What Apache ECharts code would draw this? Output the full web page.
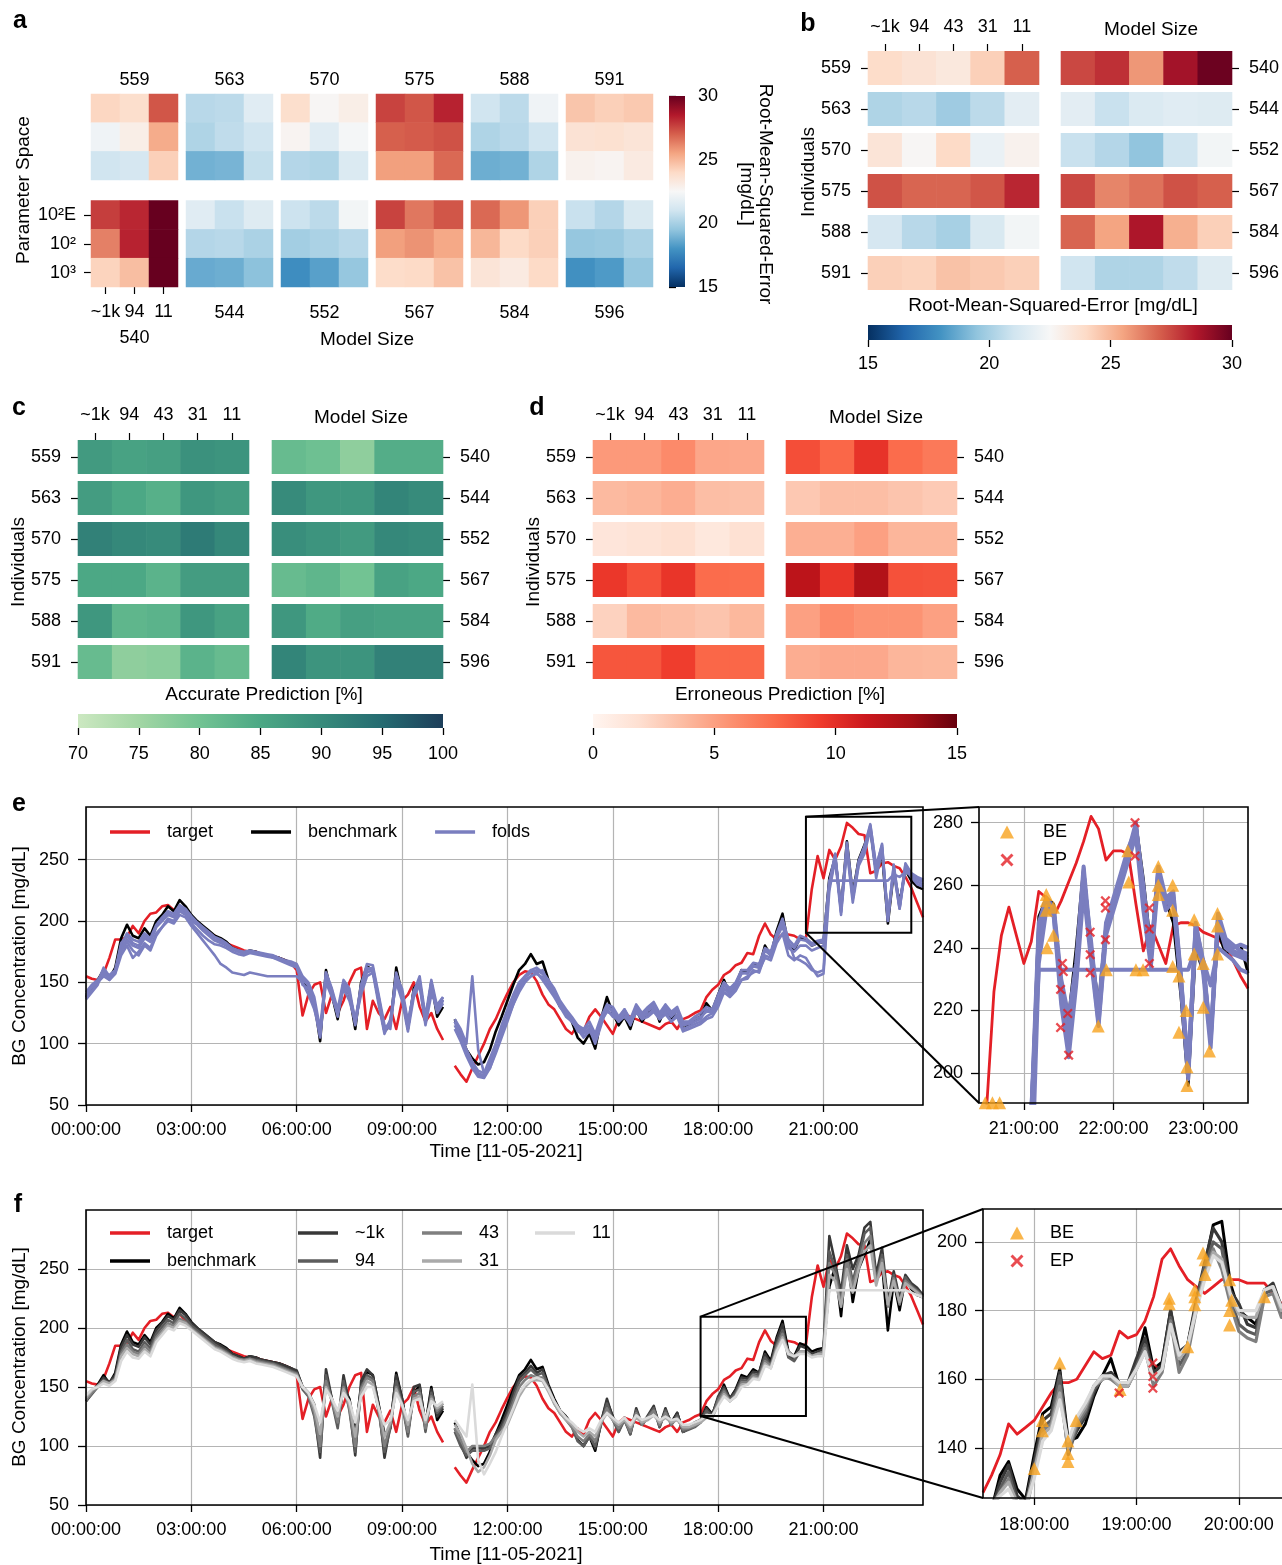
<!DOCTYPE html>
<html><head><meta charset="utf-8"><title>chart</title>
<script src="https://cdn.jsdelivr.net/npm/echarts@6.0.0/dist/echarts.min.js"></script>
<style>html,body{margin:0;padding:0;background:#fff;}#chart{width:1282px;height:1565px;}</style>
</head><body><div id="chart"></div>
<script>
// ====================== DATA ======================
const modelSizesA = ['~1k', '94', '11'];
const modelSizes = ['~1k', '94', '43', '31', '11'];
const paramSpace = ['10²E', '10²', '10³'];
const individualsTop = ['559', '563', '570', '575', '588', '591'];
const individualsBottom = ['540', '544', '552', '567', '584', '596'];
const rmseRange = [15, 30];
const accRange = [70, 100];
const errRange = [0, 15];

// panel a: RMSE, rows = parameter space (10²E, 10², 10³), cols = model size (~1k, 94, 11)
const rmseA559 = [[24.1,23.8,27.2],[22.2,23.0,25.3],[21.0,21.2,24.3]];
const rmseA563 = [[20.4,20.5,21.6],[20.2,20.6,21.0],[18.9,19.0,20.7]];
const rmseA570 = [[23.8,22.6,23.0],[22.7,21.6,22.4],[20.3,20.2,21.4]];
const rmseA575 = [[27.6,27.2,28.3],[27.0,27.1,27.3],[25.6,25.6,26.8]];
const rmseA588 = [[21.0,20.5,22.2],[20.2,20.4,21.0],[18.8,18.9,20.2]];
const rmseA591 = [[24.6,24.3,24.5],[23.6,23.7,23.5],[22.8,22.7,23.2]];
const rmseA540 = [[27.7,28.2,30.0],[26.3,28.3,30.0],[24.2,24.8,30.0]];
const rmseA544 = [[21.6,20.8,21.5],[20.3,20.4,20.1],[18.7,18.8,19.4]];
const rmseA552 = [[20.9,20.5,22.3],[19.9,20.1,20.4],[17.8,18.4,19.6]];
const rmseA567 = [[27.6,26.5,27.2],[25.6,25.9,25.4],[23.9,24.0,24.7]];
const rmseA584 = [[26.8,25.8,24.3],[25.0,24.0,24.3],[23.5,23.2,24.0]];
const rmseA596 = [[20.8,20.3,21.3],[19.6,19.7,20.1],[17.9,18.2,19.6]];

// panel b: RMSE, rows = individuals, cols = model size
const rmseBLeft = [[23.9,23.6,23.3,24.3,27.0],[20.2,20.4,19.8,20.5,21.7],[23.5,22.6,24.0,22.0,22.8],[27.3,26.9,26.9,27.2,28.2],[21.2,20.4,20.0,21.3,22.3],[24.3,24.2,24.7,24.5,24.3]];
const rmseBRight = [[27.5,28.0,25.8,28.8,29.9],[21.7,20.8,21.4,21.6,21.5],[20.8,20.3,19.5,21.0,22.3],[27.5,26.2,26.6,27.3,27.0],[26.9,25.5,28.6,25.2,24.3],[21.0,20.2,20.2,20.6,21.5]];
// panel c: accurate prediction [%]
const accCLeft = [[87.5,86.0,86.5,89.0,88.5],[87.0,85.0,83.5,88.0,87.0],[91.5,90.5,90.0,92.5,90.5],[85.0,85.0,83.0,87.0,87.0],[88.0,82.5,83.0,88.0,86.0],[81.5,77.0,77.5,83.0,81.5]];
const accCRight = [[81.5,80.5,77.0,84.0,84.0],[90.0,88.0,88.0,91.0,90.0],[89.5,88.5,87.5,90.5,90.0],[81.5,82.5,80.0,86.0,85.0],[88.0,84.5,86.5,86.0,86.0],[91.0,88.5,88.5,91.5,91.5]];
// panel d: erroneous prediction [%]
const errDLeft = [[5.3,5.3,6.0,4.7,4.6],[3.8,4.0,4.4,3.6,3.5],[1.4,1.6,1.9,1.2,1.8],[9.6,8.5,9.7,7.4,7.3],[2.6,3.8,3.6,3.3,3.9],[8.3,8.3,9.3,7.6,7.6]];
const errDRight = [[8.6,7.6,9.8,7.4,6.8],[3.1,3.6,3.6,3.3,3.0],[4.3,4.3,5.0,4.0,4.0],[12.0,9.7,12.5,8.5,8.4],[5.0,6.0,5.6,5.6,5.0],[4.4,4.6,4.6,4.0,3.9]];

// time series, 10-minute samples from 00:00 to 23:50 (hours)
const t10 = Array.from({length: 144}, (_, i) => i / 6);
const target = [155,153,152,157,170,185,185,187,196,190,200,206, 207,212,213,209,212,206,202,198,194,190,188,184, 182,180,178,176,175,175,173,172,171,170,168,166, 160,123,140,148,150,125,140,125,135,150,160,162, 112,135,125,120,130,112,135,140,150,130,118,125, 112,103,null,82,75,69,80,90,100,112,120,131, 141,150,156,159,158,151,140,132,128,120,112,108, 115,110,122,128,122,115,108,120,124,122,120,118, 116,114,112,116,118,112,120,122,125,127,138,144, 148,156,159,164,166,174,173,188,198,189,185,189, 189,188,185,186,226,253,235,258,250,261,280,276, 271,270,239,241,247,248,245,243,236,227,215,203];
const benchmark = [138,145,152,160,153,162,186,197,188,186,194,188, 200,205,212,208,217,212,205,200,196,192,188,186, 183,178,176,174,176,175,173,172,171,170,168,166, 163,150,145,135,102,160,140,120,150,140,112,150, 163,160,135,110,115,162,140,112,145,151,118,150, 122,130,null,120,108,95,88,83,85,95,110,122, 135,148,160,165,173,165,167,152,140,130,125,118, 105,100,108,96,120,138,125,115,122,112,128,118, 125,132,118,130,120,128,112,115,120,122,133,127, 140,152,140,148,160,158,165,162,180,172,192,206, 180,176,187,185,180,182,183,235,252,210,265,222, 250,262,275,240,255,198,240,215,242,233,228,226];
const fold1 = [140,147,150,162,155,158,180,190,185,183,190,186, 197,203,208,206,213,210,204,199,195,191,187,185, 182,178,176,174,175,174,173,172,170,169,167,165, 163,152,148,130,105,155,142,122,148,142,115,145, 160,162,138,112,118,158,142,115,140,150,120,148, 128,135,null,118,108,95,85,78,76,88,100,115, 128,140,150,155,160,158,160,150,140,132,125,120, 110,108,112,100,115,130,126,118,125,115,128,120, 127,130,120,128,122,127,115,116,118,120,128,126, 136,148,142,148,158,157,163,162,176,172,188,200, 182,178,185,184,180,182,183,230,255,208,262,220, 248,260,278,245,262,200,245,212,246,238,234,232];
const fold2 = [137,143,150,155,152,157,172,180,170,175,182,178, 190,195,200,198,205,203,196,190,184,178,172,165, 162,158,157,156,158,157,156,155,155,155,155,155, 155,150,140,128,110,150,138,125,145,135,118,140, 155,158,132,108,120,150,135,110,138,148,115,140, 132,138,null,115,105,95,85,75,73,82,95,110, 122,135,145,152,155,158,152,145,138,130,122,118, 112,105,110,105,118,128,122,120,128,118,125,122, 124,128,122,126,118,124,112,114,116,118,122,125, 132,145,140,145,152,155,158,160,170,168,182,190, 172,168,172,170,162,155,157,225,250,205,258,215, 245,255,275,235,258,205,240,210,243,236,230,228];
const fold3 = [142,148,152,158,156,160,178,185,180,178,186,183, 195,200,205,203,210,206,200,197,192,188,184,182, 180,177,176,175,176,175,174,173,172,170,168,167, 165,155,150,138,112,158,145,128,152,145,118,148, 165,164,140,115,112,155,145,118,142,155,122,152, 130,138,null,120,112,100,155,95,76,80,92,105, 118,132,145,155,160,162,158,152,145,135,128,122, 115,112,118,108,122,132,130,122,128,120,132,125, 130,134,125,132,126,130,118,118,122,125,130,128, 140,150,145,150,160,160,166,165,178,175,190,202, 185,180,188,186,182,184,185,233,233,233,233,233, 233,233,233,233,233,233,238,236,240,237,235,233];
const fold4 = [136,142,148,160,152,158,175,183,176,172,180,176, 188,195,202,200,208,205,198,193,188,184,181,180, 178,175,173,172,174,173,172,171,170,168,166,164, 162,148,145,132,108,152,140,125,147,140,120,143, 158,160,135,110,116,152,138,113,142,148,117,145, 125,133,null,112,102,90,80,73,72,80,94,108, 120,132,142,150,155,157,154,148,140,130,124,118, 112,108,112,104,118,126,124,118,122,116,126,120, 122,126,120,124,118,122,110,112,114,116,120,122, 130,142,138,143,152,153,160,158,172,170,186,196, 178,175,180,180,176,178,180,228,252,210,260,218, 246,258,276,240,260,202,242,210,244,236,232,230];
const fold5 = [139,146,151,157,154,160,182,188,182,180,188,184, 196,202,206,204,212,208,202,198,193,189,185,183, 181,177,175,173,175,174,173,172,171,169,167,166, 164,153,147,134,106,158,144,124,150,142,116,147, 162,161,137,112,115,157,141,116,143,152,119,150, 127,136,null,118,106,92,82,76,74,84,97,112, 125,138,148,154,158,160,157,150,142,133,126,121, 113,110,115,106,120,130,128,120,126,118,130,123, 128,132,123,130,124,128,116,117,120,122,126,126, 138,150,143,147,157,158,164,163,177,173,189,200, 183,170,168,165,160,158,160,232,254,207,264,219, 249,261,279,243,263,201,246,211,247,239,236,234];
const model1k = [140,146,151,158,154,160,184,194,186,184,192,186, 198,204,210,207,215,211,204,200,196,192,188,185, 182,178,176,174,176,175,173,172,171,170,168,166, 164,150,145,130,90,165,140,118,160,135,92,155, 165,160,135,90,118,160,140,110,150,152,115,148, 125,132,null,115,102,90,98,98,98,100,110,118, 130,145,158,162,168,162,165,150,138,130,125,118, 105,100,110,98,120,140,124,112,124,110,132,118, 126,134,116,132,118,128,112,115,118,122,132,126, 142,150,140,147,158,157,163,162,178,170,190,203, 176,174,185,183,178,180,182,278,255,230,270,250, 262,285,290,245,268,222,248,225,245,238,234,228];
const model94 = [138,144,150,156,153,158,180,190,182,180,188,183, 195,201,207,204,212,208,202,198,194,190,186,183, 180,176,174,172,174,173,172,171,170,168,166,164, 162,148,142,125,95,160,138,115,155,130,95,150, 160,157,130,95,115,155,136,108,146,148,112,145, 128,134,null,112,100,92,96,96,96,98,108,115, 126,140,154,160,165,160,162,150,137,128,123,116, 104,100,108,100,118,136,122,112,122,110,130,118, 125,132,116,130,118,126,112,114,116,120,130,125, 140,148,139,145,156,155,161,160,175,168,186,198, 175,172,180,180,176,178,180,265,250,225,262,240, 258,280,285,240,262,220,245,222,243,236,232,227];
const model43 = [139,145,150,155,152,157,178,186,180,178,185,180, 192,198,204,202,208,205,200,196,192,188,184,182, 179,176,174,173,174,172,171,170,169,167,165,163, 161,150,143,128,100,155,138,120,150,132,100,148, 158,155,130,100,118,150,135,112,142,145,115,142, 130,136,null,115,105,95,100,100,100,102,108,112, 124,136,150,156,160,158,158,148,136,128,122,116, 108,104,110,104,120,132,122,115,122,112,128,118, 124,130,118,128,118,124,114,115,117,120,127,124, 138,146,138,143,154,154,160,158,172,168,184,195, 178,175,180,180,176,178,180,255,245,220,258,235, 255,272,278,238,258,218,242,220,240,235,231,226];
const model31 = [141,147,151,155,153,156,176,183,178,176,182,178, 190,196,202,200,206,204,199,195,191,187,183,181, 178,175,173,172,173,171,170,169,168,166,164,162, 160,150,145,132,110,150,140,125,148,135,108,145, 155,152,132,108,120,148,135,118,140,142,120,140, 132,136,null,118,110,98,85,78,82,92,105,112, 118,130,142,150,155,156,155,146,136,128,122,118, 112,108,112,108,120,128,122,118,122,116,124,120, 122,126,120,124,120,122,116,116,118,120,124,124, 135,144,138,142,152,152,158,157,170,166,182,192, 180,176,180,180,176,178,178,245,240,218,250,230, 250,265,270,236,255,220,240,222,238,234,230,226];
const model11 = [143,148,150,153,151,155,172,180,175,174,180,176, 188,194,200,198,204,202,198,194,190,186,182,180, 177,174,172,171,172,170,169,168,167,165,163,161, 159,150,145,135,120,148,140,130,145,138,120,142, 150,150,132,118,122,145,135,122,138,140,122,138, 134,138,null,122,115,108,152,88,76,85,95,108, 120,132,145,152,156,158,156,148,138,130,124,120, 115,112,115,112,122,128,124,120,124,118,126,122, 124,126,122,125,122,123,118,118,120,122,126,126, 134,142,138,142,150,152,157,156,168,166,180,190, 178,176,178,178,175,176,176,232,232,232,232,232, 232,232,232,232,232,232,232,232,232,230,228,226];

// inset e: 5-minute samples 20:30 - 23:30
const insetEX = [20.5, 23.5];
const insetEY = [190.4, 285];
const tInsetE = Array.from({length: 37}, (_, i) => 20.5 + i / 12);
const targetE = [185,188,226,244,253,244,235,242,258,256,250,255,261,267,274,282,278,268,271,271,270,254,239,247,241,235,247,248,248,247,245,244,243,240,236,231,227];
const benchmarkE = [185,182,178,180,183,178,183,186,250,256,254,226,218,240,266,240,222,248,255,262,268,280,262,240,260,255,248,225,196,240,232,210,245,238,240,241,232];
const foldE1 = [188,185,182,180,182,180,183,185,245,255,252,228,215,232,262,242,218,246,254,262,270,279,258,236,264,254,256,230,202,246,234,212,248,240,238,237,236];
const foldE2 = [175,172,168,165,162,160,158,160,235,252,250,222,205,228,258,236,215,244,252,260,268,276,252,234,262,252,255,228,198,245,232,208,249,242,240,241,240];
const foldE3 = [186,184,180,178,180,176,180,188,233,233,233,233,233,233,233,233,233,233,233,233,233,233,233,233,233,233,233,233,233,240,236,228,240,238,236,233,232];
const foldE4 = [184,181,179,178,181,177,181,186,240,254,251,225,210,230,264,238,216,245,255,263,271,280,256,237,266,256,258,232,200,248,235,210,250,241,239,238,237];
const foldE5 = [187,183,181,179,183,179,182,187,248,256,253,230,218,235,266,240,220,248,256,264,272,278,260,238,265,255,257,231,201,247,236,211,251,243,241,239,238];
const beE = [[20.57,190.5],[20.65,190.5],[20.73,190.5],[21.25,257],[21.25,255],[21.25,252],[21.26,240],[21.33,253],[21.33,244],[21.83,215],[21.92,233],[22.16,271],[22.17,261],[22.25,233],[22.33,233],[22.5,266],[22.5,260],[22.5,257],[22.66,260],[22.66,252],[22.66,234],[22.73,231],[22.73,213],[22.81,220],[22.82,202],[22.82,196],[22.9,249],[22.9,238],[23.0,235],[23.0,221],[23.07,207],[23.16,251],[23.16,247],[23.16,238]];
const epE = [[21.41,226.7],[21.41,214.5],[21.43,235],[21.44,232.4],[21.49,219],[21.5,205.7],[21.74,245],[21.74,237.8],[21.74,232],[21.91,255],[21.91,252.7],[21.91,242.6],[22.24,280],[22.24,269.3],[22.4,252.7],[22.4,246],[22.4,235]];

// inset f: 5-minute samples 17:30 - 20:30
const insetFX = [17.5, 20.5];
const insetFY = [125.4, 209.6];
const tInsetF = Array.from({length: 37}, (_, i) => 17.5 + i / 12);
const targetF = [127,132,138,147,144,146,148,152,156,159,159,160,164,168,166,167,174,172,173,177,184,195,198,193,189,187,185,187,189,189,189,188,188,188,185,182,180];
const benchmarkF = [118,122,132,136,128,125,138,150,152,163,142,143,147,155,161,166,158,158,165,175,163,165,180,166,170,182,193,205,206,188,180,178,176,186,187,180,183];
const model1kF = [118,122,130,135,126,124,136,148,150,162,140,145,149,156,161,162,159,159,166,172,162,164,180,168,170,183,194,204,200,186,182,176,175,186,188,181,182];
const model94F = [117,121,128,133,124,122,134,146,148,161,138,146,150,157,160,161,159,158,164,170,160,163,178,164,168,182,193,200,198,184,176,174,173,185,186,179,181];
const model43F = [116,120,127,131,122,121,133,145,147,158,139,147,151,158,161,160,158,158,163,169,158,162,177,162,167,180,191,198,192,182,174,172,171,184,185,178,180];
const model31F = [119,123,127,130,124,123,133,144,146,156,140,148,152,158,160,161,158,158,163,168,160,163,176,166,169,181,190,197,195,184,179,178,178,186,187,180,181];
const model11F = [120,124,126,128,123,123,131,142,145,154,142,149,153,158,161,161,159,159,163,168,160,163,176,167,170,180,189,196,194,185,180,180,180,186,187,181,181];
const beF = [[18.0,134],[18.08,148],[18.08,145],[18.25,164.7],[18.33,142],[18.33,138.4],[18.33,136],[18.41,148],[18.84,157],[19.32,183.6],[19.32,182],[19.5,169.5],[19.57,186],[19.57,184],[19.57,181.7],[19.65,196.8],[19.67,194.8],[19.67,190.5],[19.91,189],[19.93,183],[19.91,180],[19.91,175.8],[20.25,184]];
const epF = [[18.83,156],[19.16,164.7],[19.16,160.8],[19.16,157.4]];

// tick values
const mainTimeTicks = [0, 3, 6, 9, 12, 15, 18, 21];
const bgTicks = [50, 100, 150, 200, 250];
const insetETimeTicks = [21, 22, 23];
const insetEBgTicks = [200, 220, 240, 260, 280];
const insetFTimeTicks = [18, 19, 20];
const insetFBgTicks = [140, 160, 180, 200];

// ====================== STYLE ======================
const FONT = '"Liberation Sans", Arial, Helvetica, sans-serif';
const RDBU = ['#053061','#2166ac','#4393c3','#92c5de','#d1e5f0','#f7f7f7','#fddbc7','#f4a582','#d6604d','#b2182b','#67001f'];
const GREENS = ['#cce8c1','#a2d6a4','#72c393','#4ca885','#378b7b','#256b71','#1d3e5a'];
const REDS = ['#fff5f0','#fee0d2','#fcbba1','#fc9272','#fb6a4a','#ef3b2c','#cb181d','#a50f15','#67000d'];
const C_TARGET = '#e41f26', C_BENCH = '#000000', C_FOLD = '#7a7ebf', C_BE = '#f7a21e', C_EP = '#e41f26';
const MODEL_COLORS = ['#383838', '#5c5c5c', '#7f7f7f', '#aaaaaa', '#dadada'];
const X_PATH = 'path://M0,1.6L1.6,0L5,3.4L8.4,0L10,1.6L6.6,5L10,8.4L8.4,10L5,6.6L1.6,10L0,8.4L3.4,5Z';

// ====================== BUILD ======================
const grid = [], xAxis = [], yAxis = [], series = [];
function addGrid(left, top, width, height, extra) {
  grid.push(Object.assign({left, top, width, height, containLabel: false, outerBoundsMode: 'none'}, extra || {}));
  return grid.length - 1;
}
function tick(len) { return {show: true, length: len, alignWithLabel: true, interval: 0, inside: false, lineStyle: {color: '#000', width: 1.2}}; }
function lab(m, extra) { return Object.assign({show: true, margin: m, fontSize: 18, color: '#000', fontFamily: FONT, interval: 0}, extra || {}); }
function off() { return {show: false}; }
function toCells(mat) { const d = []; mat.forEach((r, ri) => r.forEach((v, ci) => d.push([ci, ri, v]))); return d; }

const rdbuSeries = [], greenSeries = [], redSeries = [];

// ---- panel a ----
const aTop = [rmseA559, rmseA563, rmseA570, rmseA575, rmseA588, rmseA591];
const aBottom = [rmseA540, rmseA544, rmseA552, rmseA567, rmseA584, rmseA596];
for (let k = 0; k < 6; k++) {
  for (let row = 0; row < 2; row++) {
    const gi = addGrid(91 + 95 * k, row ? 200.5 : 94, 87, row ? 86.5 : 86);
    const first = row === 1 && k === 0;
    xAxis.push({type: 'category', gridIndex: gi, data: modelSizesA, position: row ? 'bottom' : 'top',
      name: row ? individualsBottom[k] : individualsTop[k], nameLocation: 'middle',
      nameGap: row ? (first ? 42 : 17) : 5, nameMoveOverlap: false,
      nameTextStyle: {fontSize: 18, color: '#000', fontFamily: FONT},
      axisLine: off(), axisTick: first ? tick(7) : off(), axisLabel: first ? lab(16) : off(), splitLine: off()});
    yAxis.push({type: 'category', gridIndex: gi, data: paramSpace, inverse: true,
      axisLine: off(), axisTick: first ? tick(7) : off(), axisLabel: first ? lab(15) : off(), splitLine: off()});
    series.push({type: 'heatmap', xAxisIndex: xAxis.length - 1, yAxisIndex: yAxis.length - 1,
      data: toCells(row ? aBottom[k] : aTop[k]), itemStyle: {borderWidth: 0}, emphasis: {disabled: true}, silent: true});
    rdbuSeries.push(series.length - 1);
  }
}

function colorbar(left, top, width, height, horizontal, range, colors, margin) {
  const gi = addGrid(left, top, width, height);
  const valAx = {type: 'value', gridIndex: gi, min: range[0], max: range[1], interval: 5,
    axisLine: off(), axisTick: {show: true, length: 7, lineStyle: {color: '#000', width: 1.3}},
    axisLabel: lab(margin), splitLine: off()};
  const hidAx = {type: 'value', gridIndex: gi, min: 0, max: 1, show: false};
  if (horizontal) { xAxis.push(Object.assign(valAx, {position: 'bottom'})); yAxis.push(hidAx); }
  else { xAxis.push(hidAx); yAxis.push(Object.assign(valAx, {position: 'right'})); }
  series.push({type: 'custom', xAxisIndex: xAxis.length - 1, yAxisIndex: yAxis.length - 1, silent: true,
    data: [[range[0], range[1]]],
    renderItem: (p, api) => {
      const lo = api.value(0), hi = api.value(1);
      const a = horizontal ? api.coord([lo, 0]) : api.coord([0, lo]);
      const b = horizontal ? api.coord([hi, 1]) : api.coord([1, hi]);
      const stops = colors.map((c, i) => ({offset: i / (colors.length - 1), color: c}));
      const grad = horizontal ? new echarts.graphic.LinearGradient(0, 0, 1, 0, stops) : new echarts.graphic.LinearGradient(0, 1, 0, 0, stops);
      return {type: 'rect', shape: {x: Math.min(a[0], b[0]), y: Math.min(a[1], b[1]), width: Math.abs(b[0] - a[0]), height: Math.abs(b[1] - a[1])}, style: {fill: grad}};
    }});
}
colorbar(669, 96, 16, 191, false, rmseRange, RDBU, 13);

// ---- panels b, c, d ----
function bandHeat(left, top, rows, mat, side, showX, bucket, xm) {
  const gi = addGrid(left, top, 171, 246);
  xAxis.push({type: 'category', gridIndex: gi, data: modelSizes, position: 'top', offset: -3.5,
    axisLine: off(), axisTick: showX ? tick(7) : off(), axisLabel: showX ? lab(xm) : off(), splitLine: off()});
  yAxis.push({type: 'category', gridIndex: gi, data: rows, inverse: true, position: side,
    axisLine: off(), axisTick: tick(7), axisLabel: lab(17), splitLine: off()});
  series.push({type: 'custom', xAxisIndex: xAxis.length - 1, yAxisIndex: yAxis.length - 1, silent: true,
    data: toCells(mat), encode: {x: 0, y: 1},
    renderItem: (p, api) => {
      const c = api.coord([api.value(0), api.value(1)]);
      const s = api.size([1, 1]);
      return {type: 'rect', shape: {x: c[0] - s[0] / 2 - 0.3, y: c[1] - s[1] / 2 + 3.5, width: s[0] + 0.6, height: s[1] - 7},
        style: {fill: api.visual('color')}};
    }});
  bucket.push(series.length - 1);
}
bandHeat(868, 47.5, individualsTop, rmseBLeft, 'left', true, rdbuSeries, 15);
bandHeat(1061, 47.5, individualsBottom, rmseBRight, 'right', false, rdbuSeries, 15);
colorbar(868, 325, 364, 15, true, rmseRange, RDBU, 15);
bandHeat(78, 436.5, individualsTop, accCLeft, 'left', true, greenSeries, 16);
bandHeat(272, 436.5, individualsBottom, accCRight, 'right', false, greenSeries, 16);
colorbar(78, 714, 365, 14, true, accRange, GREENS, 17);
bandHeat(593, 436.5, individualsTop, errDLeft, 'left', true, redSeries, 16);
bandHeat(786, 436.5, individualsBottom, errDRight, 'right', false, redSeries, 16);
colorbar(593, 714, 364, 14, true, errRange, REDS, 17);

// ---- panels e, f ----
const fmtH = v => (v < 10 ? '0' : '') + Math.round(v) + ':00:00';
function timeGrid(left, top, width, height, xr, yr, xTicks, yTicks, opts) {
  const gi = addGrid(left, top, width, height, {show: true, borderColor: '#000', borderWidth: 1.6, z: 5, backgroundColor: 'transparent'});
  const xa = {type: 'value', gridIndex: gi, min: xr[0], max: xr[1],
    axisLine: off(), axisTick: {show: true, length: 7, lineStyle: {color: '#000', width: 1.3}, customValues: xTicks},
    axisLabel: lab(opts.xm, {formatter: fmtH, customValues: xTicks}),
    splitLine: {show: true, lineStyle: {color: '#b4b4b4', width: 1.2}}};
  const ya = {type: 'value', gridIndex: gi, min: yr[0], max: yr[1],
    axisLine: off(), axisTick: {show: true, length: 8, lineStyle: {color: '#000', width: 1.3}, customValues: yTicks},
    axisLabel: lab(opts.ym, {customValues: yTicks}),
    splitLine: {show: true, lineStyle: {color: '#b4b4b4', width: 1.2}}};
  if (opts.xi) xa.interval = opts.xi; else xa.splitNumber = 3;
  if (opts.yi) ya.interval = opts.yi; else ya.splitNumber = 5;
  xAxis.push(xa); yAxis.push(ya);
  return {gi, xi: xAxis.length - 1, yi: yAxis.length - 1};
}
function line(name, xs, ys, color, width, g) {
  series.push({type: 'line', name, xAxisIndex: g.xi, yAxisIndex: g.yi,
    data: xs.map((t, i) => [t, ys[i] == null ? '-' : ys[i]]),
    showSymbol: false, symbol: 'none', connectNulls: false, clip: true, silent: true,
    lineStyle: {color, width, join: 'round'}, itemStyle: {color}, emphasis: {disabled: true}});
}
function markers(name, data, symbol, size, color, g) {
  series.push({type: 'scatter', name, xAxisIndex: g.xi, yAxisIndex: g.yi, data, symbol, symbolSize: size,
    itemStyle: {color}, clip: true, silent: true, emphasis: {disabled: true}, z: 10});
}

const gE = timeGrid(86, 807, 837, 298, [0, 143 / 6], [50, 293], mainTimeTicks, bgTicks, {xm: 16, ym: 17, xi: 3, yi: 50});
line('target', t10, target, C_TARGET, 2.6, gE);
line('benchmark', t10, benchmark, C_BENCH, 2.6, gE);
[fold1, fold2, fold3, fold4, fold5].forEach(f => line('folds', t10, f, C_FOLD, 2.6, gE));

const gEi = timeGrid(979, 807, 269, 296, insetEX, insetEY, insetETimeTicks, insetEBgTicks, {xm: 17, ym: 16});
line('target', tInsetE, targetE, C_TARGET, 2.8, gEi);
line('benchmark', tInsetE, benchmarkE, C_BENCH, 2.8, gEi);
[foldE1, foldE2, foldE3, foldE4, foldE5].forEach(f => line('folds', tInsetE, f, C_FOLD, 4, gEi));
markers('BE', beE, 'triangle', 13, C_BE, gEi);
markers('EP', epE, X_PATH, 10, C_EP, gEi);

const gF = timeGrid(86, 1210, 837, 295, [0, 143 / 6], [50, 300], mainTimeTicks, bgTicks, {xm: 16, ym: 17, xi: 3, yi: 50});
const modelNames = ['~1k', '94', '43', '31', '11'];
line('target', t10, target, C_TARGET, 2.6, gF);
line('benchmark', t10, benchmark, C_BENCH, 2.6, gF);
[model1k, model94, model43, model31, model11].forEach((m, i) => line(modelNames[i], t10, m, MODEL_COLORS[i], 2.6, gF));

const gFi = timeGrid(983, 1209, 307, 289, insetFX, insetFY, insetFTimeTicks, insetFBgTicks, {xm: 18, ym: 16});
line('target', tInsetF, targetF, C_TARGET, 2.8, gFi);
line('benchmark', tInsetF, benchmarkF, C_BENCH, 3, gFi);
[model1kF, model94F, model43F, model31F, model11F].forEach((m, i) => line(modelNames[i], tInsetF, m, MODEL_COLORS[i], 3.2, gFi));
markers('BE', beF, 'triangle', 13, C_BE, gFi);
markers('EP', epF, X_PATH, 10, C_EP, gFi);

// legends
function lineLegend(data, left, top, orient, gap) {
  return {data, left, top, orient, icon: 'rect', itemWidth: 40, itemHeight: 3.5, itemGap: gap, padding: 0, selectedMode: false,
    textStyle: {fontSize: 18, color: '#000', fontFamily: FONT, padding: [0, 0, 0, 12], lineHeight: 20}};
}
function markLegend(left, top, pad) {
  return {data: ['BE', 'EP'], left, top, orient: 'vertical', itemWidth: 14, itemHeight: 13, itemGap: 8, padding: 0, selectedMode: false,
    textStyle: {fontSize: 18, color: '#000', fontFamily: FONT, padding: [0, 0, 0, pad], lineHeight: 20}};
}
const legend = [
  lineLegend(['target', 'benchmark', 'folds'], 110, 822, 'horizontal', 38),
  markLegend(1000, 822, 24),
  lineLegend(['target', 'benchmark'], 110, 1223, 'vertical', 8),
  lineLegend(['~1k', '94'], 298, 1223, 'vertical', 8),
  lineLegend(['43', '31'], 422, 1223, 'vertical', 8),
  lineLegend(['11'], 535, 1223, 'vertical', 8),
  markLegend(1010, 1223, 21)
];

const option = {
  animation: false,
  backgroundColor: '#ffffff',
  textStyle: {fontFamily: FONT},
  grid, xAxis, yAxis, series, legend,
  visualMap: [
    {type: 'continuous', show: false, min: rmseRange[0], max: rmseRange[1], dimension: 2, seriesIndex: rdbuSeries, inRange: {color: RDBU}},
    {type: 'continuous', show: false, min: accRange[0], max: accRange[1], dimension: 2, seriesIndex: greenSeries, inRange: {color: GREENS}},
    {type: 'continuous', show: false, min: errRange[0], max: errRange[1], dimension: 2, seriesIndex: redSeries, inRange: {color: REDS}}
  ]
};

const chart = echarts.init(document.getElementById('chart'), null, {renderer: 'canvas', width: 1282, height: 1565});
chart.setOption(option);

// ---- annotations ----
function txt(text, x, y, size, opts) {
  opts = opts || {};
  return {type: 'text', x, y, rotation: opts.rot || 0, z: 50, silent: true,
    style: {text, fontSize: size, fontFamily: FONT, fontWeight: opts.bold ? 'bold' : 'normal', fill: '#000',
      align: 'center', verticalAlign: 'middle', textAlign: 'center', textVerticalAlign: 'middle'}};
}
const R = Math.PI / 2;
const els = [
  txt('a', 20, 21, 25, {bold: true}), txt('b', 808, 24, 25, {bold: true}), txt('c', 19, 408, 25, {bold: true}),
  txt('d', 537, 408, 25, {bold: true}), txt('e', 19, 804, 25, {bold: true}), txt('f', 18, 1205, 25, {bold: true}),
  txt('Model Size', 367, 340, 19), txt('Parameter Space', 24, 190, 19, {rot: R}),
  txt('Root-Mean-Squared-Error', 765, 194, 19, {rot: -R}), txt('[mg/dL]', 746, 194, 19, {rot: -R}),
  txt('Model Size', 1151, 30, 19), txt('Individuals', 809, 172, 19, {rot: R}),
  txt('Root-Mean-Squared-Error [mg/dL]', 1053, 306, 19),
  txt('Model Size', 361, 418, 19), txt('Individuals', 19, 562, 19, {rot: R}), txt('Accurate Prediction [%]', 264, 695, 19),
  txt('Model Size', 876, 418, 19), txt('Individuals', 534, 562, 19, {rot: R}), txt('Erroneous Prediction [%]', 780, 695, 19),
  txt('BG Concentration [mg/dL]', 20, 956, 19, {rot: R}), txt('Time [11-05-2021]', 506, 1152, 19),
  txt('BG Concentration [mg/dL]', 20, 1357, 19, {rot: R}), txt('Time [11-05-2021]', 506, 1555, 19)
];
function zoomBox(gMain, gIn, xr, yr) {
  const px = (g, p) => chart.convertToPixel({gridIndex: g.gi}, p);
  const tl = px(gMain, [xr[0], yr[1]]), br = px(gMain, [xr[1], yr[0]]);
  const itl = px(gIn, [xr[0], yr[1]]), ibl = px(gIn, [xr[0], yr[0]]);
  const st = {stroke: '#000', lineWidth: 2, fill: null};
  els.push({type: 'rect', z: 60, silent: true, shape: {x: tl[0], y: tl[1], width: br[0] - tl[0], height: br[1] - tl[1]}, style: Object.assign({}, st, {fill: 'none'})});
  els.push({type: 'line', z: 60, silent: true, shape: {x1: tl[0], y1: tl[1], x2: itl[0], y2: itl[1]}, style: st});
  els.push({type: 'line', z: 60, silent: true, shape: {x1: tl[0], y1: br[1], x2: ibl[0], y2: ibl[1]}, style: st});
}
zoomBox(gE, gEi, insetEX, insetEY);
zoomBox(gF, gFi, insetFX, insetFY);
chart.setOption({graphic: {elements: els}});
</script></body></html>
